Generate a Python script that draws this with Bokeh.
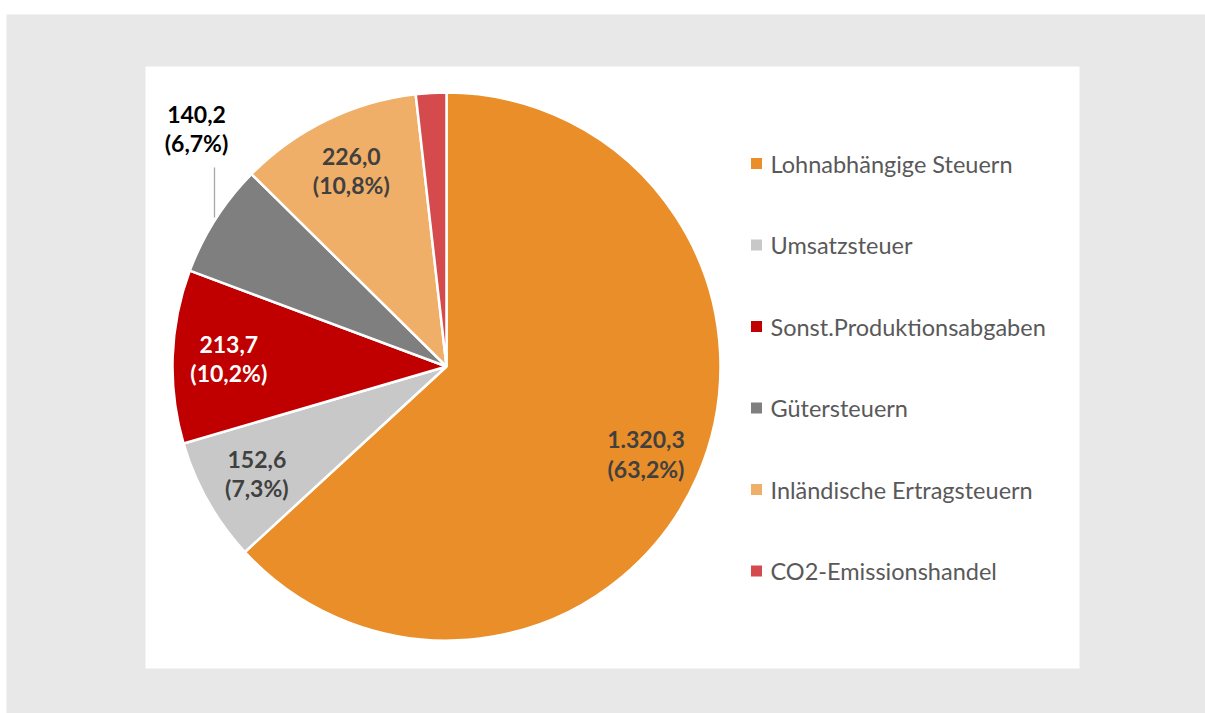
import math
from bokeh.plotting import figure
from bokeh.models import Range1d
from bokeh.core.properties import value
from bokeh.embed import file_html
from bokeh.resources import INLINE

# ---- data ----
categories = ["Lohnabhängige Steuern", "Umsatzsteuer", "Sonst.Produktionsabgaben",
              "Gütersteuern", "Inländische Ertragsteuern", "CO2-Emissionshandel"]
values = [1320.3, 152.6, 213.7, 140.2, 226.0, 37.5]
value_labels = ["1.320,3", "152,6", "213,7", "140,2", "226,0", ""]
pct_labels = ["63,2%", "7,3%", "10,2%", "6,7%", "10,8%", ""]
colors = ["#E98E28", "#C8C8C8", "#C00000", "#7F7F7F", "#EFAF68", "#D54B4D"]
label_colors = ["#404040", "#404040", "#FFFFFF", "#000000", "#404040", "#404040"]

W, H = 1205, 713
p = figure(width=W, height=H, output_backend="svg", toolbar_location=None,
           x_range=Range1d(0, W), y_range=Range1d(0, H), min_border=0,
           background_fill_color="white", border_fill_color="white")
p.axis.visible = False
p.grid.visible = False
p.outline_line_color = None

# page -> data helpers
def px(x): return x
def py(y): return H - y

# outer gray panel and inner white panel
p.quad(left=[px(6)], right=[px(1205)], top=[py(14)], bottom=[py(713)],
       fill_color="#E8E8E8", line_color=None)
p.quad(left=[px(145)], right=[px(1079)], top=[py(66)], bottom=[py(668)],
       fill_color="#FFFFFF", line_color=None)

cx, cy, R = px(446), py(366), 274
total = sum(values)
starts, ends, mids = [], [], []
cum = 0.0
for v in values:
    a0 = cum / total * 2 * math.pi
    cum += v
    a1 = cum / total * 2 * math.pi
    # clockwise from 12 o'clock
    starts.append(math.pi / 2 - a1)
    ends.append(math.pi / 2 - a0)
    mids.append((a0 + a1) / 2)

p.wedge(x=[cx] * len(values), y=[cy] * len(values), radius=R,
        start_angle=starts, end_angle=ends, direction="anticlock",
        fill_color=colors, line_color="white", line_width=2.5)

# data labels
font = value("Lato")
for i, (vl, pl) in enumerate(zip(value_labels, pct_labels)):
    if not vl:
        continue
    m = mids[i]
    if categories[i] == "Gütersteuern":
        # label moved outside with leader line
        lx, ly = px(196), py(128)
        p.line(x=[px(214), px(214)], y=[py(167), py(217)], line_color="#A6A6A6", line_width=1.3)
    else:
        r = 0.795 * R
        lx, ly = cx + r * math.sin(m), cy + r * math.cos(m)
    p.text(x=[lx], y=[ly + 14.5], text=[vl], text_align="center", text_baseline="middle",
           text_font=font, text_font_style="bold", text_font_size="23px",
           text_color=label_colors[i])
    p.text(x=[lx], y=[ly - 14.5], text=["(" + pl + ")"], text_align="center", text_baseline="middle",
           text_font=font, text_font_style="bold", text_font_size="23px",
           text_color=label_colors[i])

# legend
ly0, ldy = py(163), 81.5
leg_y = [ly0 - i * ldy for i in range(len(categories))]
p.rect(x=[px(756)] * len(categories), y=leg_y, width=11, height=11,
       fill_color=colors, line_color=None)
p.text(x=[px(770)] * len(categories), y=leg_y, text=categories,
       text_align="left", text_baseline="middle", text_font=font,
       text_font_size="23.5px", text_color="#595959")

open("out.html", "w").write(file_html(p, INLINE))
